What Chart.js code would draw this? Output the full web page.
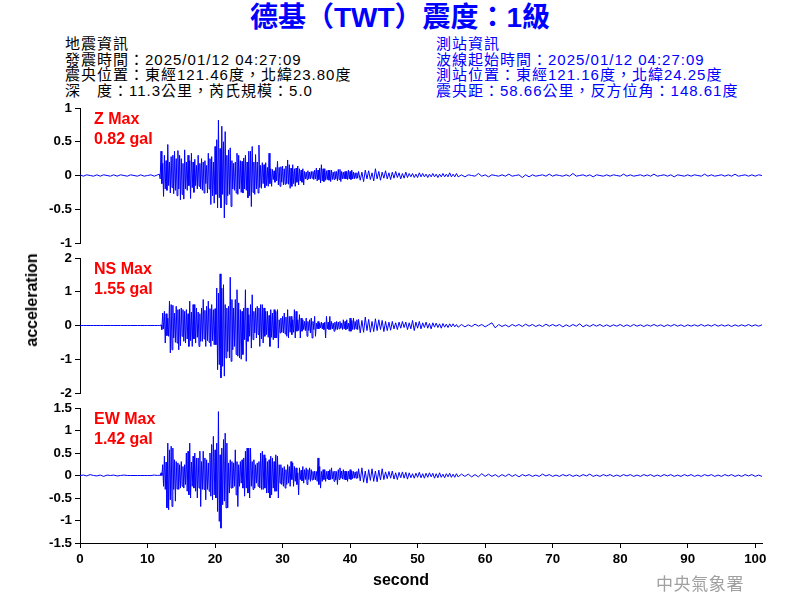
<!DOCTYPE html>
<html><head><meta charset="utf-8">
<script src="https://cdn.jsdelivr.net/npm/chart.js@4.4.1/dist/chart.umd.min.js"></script>
<style>
body{margin:0;background:#fff;}
#wrap{position:relative;width:800px;height:600px;overflow:hidden;background:#fff;font-family:"Liberation Sans",Arial,"Noto Sans CJK TC",sans-serif;}
canvas{position:absolute;left:0;}
.t{position:absolute;white-space:nowrap;}
#title{left:0;width:800px;text-align:center;top:0px;font-size:28px;font-weight:bold;color:#0000ff;line-height:36px;}
.hdr{font-size:15px;letter-spacing:1px;line-height:15.5px;}
#hl{left:65px;top:36px;color:#000;}
#hr{left:436px;top:36px;color:#0000ff;}
#acc{left:32px;top:300px;transform:translate(-50%,-50%) rotate(-90deg);font-size:16px;font-weight:bold;color:#000;}
#sec{left:401px;top:580px;transform:translate(-50%,-50%);font-size:16px;font-weight:bold;color:#000;}
#cwa{left:656px;top:570px;font-size:17px;letter-spacing:0.6px;color:#a0a0a0;font-family:"Noto Sans CJK TC",sans-serif;}
</style></head><body>
<div id="wrap">
<div id="title" class="t">德基（TWT）震度：1級</div>
<div id="hl" class="t hdr">地震資訊<br>發震時間：2025/01/12 04:27:09<br>震央位置：東經121.46度，北緯23.80度<br>深　度：11.3公里，芮氏規模：5.0</div>
<div id="hr" class="t hdr">測站資訊<br>波線起始時間：2025/01/12 04:27:09<br>測站位置：東經121.16度，北緯24.25度<br>震央距：58.66公里，反方位角：148.61度</div>
<canvas id="cz" width="800" height="160" style="top:95px"></canvas>
<canvas id="cn" width="800" height="160" style="top:245px"></canvas>
<canvas id="ce" width="800" height="205" style="top:395px"></canvas>
<div id="acc" class="t">acceleration</div>
<div id="sec" class="t">second</div>
<div id="cwa" class="t">中央氣象署</div>
</div>
<script>
// ---- time grids (seconds) ----
const PRE_T0 = 0, PRE_DT = 0.5;          // 0 .. 11.5 s
const MAIN_T0 = 11.75, MAIN_DT = 0.125;  // 11.75 .. 41.125 s
const TAIL1_T0 = 41.25, TAIL1_DT = 0.25; // 41.25 .. 56 s
const TAIL2_T0 = 56.5, TAIL2_DT = 0.5;   // 56.5 .. 101 s
const X_MAX = 101;
const X_TICKS_STEP = 10;

const traceNames = ['Z Max', 'NS Max', 'EW Max'];
const peakLabels = ['0.82 gal', '1.55 gal', '1.42 gal'];

// ---- Z component (gal) ----
const zPre = [0.01,-0.01,0.01,0,-0.01,0.01,-0.01,0.01,0,-0.01,0.01,-0.01,0.01,0,-0.01,0.01,0,-0.01,0.01,-0.01,0,0.01,-0.01,0.01];
const zMain = [
0.02,-0.05, 0.36,-0.12, 0.18,-0.31, 0.3,-0.2, 0.22,-0.22,
0.46,-0.15, 0.2,-0.26, 0.28,-0.18, 0.3,-0.27, 0.36,-0.22,
0.25,-0.3, 0.37,-0.2, 0.3,-0.36, 0.25,-0.28, 0.18,-0.35,
0.38,-0.2, 0.2,-0.22, 0.3,-0.15, 0.22,-0.34, 0.33,-0.18,
0.2,-0.25, 0.24,-0.15, 0.15,-0.2, 0.3,-0.16, 0.18,-0.2,
0.25,-0.22, 0.2,-0.26, 0.22,-0.12, 0.15,-0.26, 0.33,-0.2,
0.25,-0.43, 0.28,-0.3, 0.2,-0.41, 0.43,-0.28, 0.53,-0.48,
0.82,-0.33, 0.4,-0.48, 0.73,-0.28, 0.5,-0.63, 0.65,-0.43,
0.3,-0.3, 0.38,-0.28, 0.41,-0.46, 0.22,-0.2, 0.18,-0.22,
0.2,-0.26, 0.33,-0.28, 0.3,-0.2, 0.22,-0.25, 0.21,-0.26,
0.26,-0.2, 0.3,-0.22, 0.2,-0.33, 0.36,-0.3, 0.36,-0.46,
0.43,-0.25, 0.2,-0.28, 0.31,-0.2, 0.2,-0.26, 0.45,-0.18,
0.15,-0.19, 0.19,-0.12, 0.16,-0.18, 0.19,-0.15, 0.12,-0.16,
0.33,-0.12, 0.1,-0.16, 0.09,-0.06, 0.07,-0.1, 0.12,-0.08,
0.21,-0.14, 0.12,-0.16, 0.13,-0.1, 0.14,-0.14, 0.1,-0.13,
0.14,-0.12, 0.23,-0.13, 0.16,-0.19, 0.11,-0.16, 0.16,-0.12,
0.1,-0.16, 0.11,-0.1, 0.14,-0.14, 0.1,-0.08, 0.08,-0.1,
0.1,-0.14, 0.06,-0.05, 0.05,-0.06, 0.07,-0.05, 0.05,-0.05,
0.06,-0.04, 0.06,-0.06, 0.08,-0.05, 0.11,-0.08, 0.08,-0.06,
0.11,-0.11, 0.16,-0.08, 0.1,-0.09, 0.1,-0.07, 0.07,-0.06,
0.08,-0.07, 0.08,-0.09, 0.08,-0.06, 0.05,-0.06, 0.06,-0.05,
0.06,-0.08, 0.09,-0.06, 0.09,-0.09, 0.06,-0.05, 0.05,-0.05,
0.06,-0.05, 0.06,-0.06, 0.08,-0.05, 0.06,-0.06, 0.08,-0.05,
0.05,-0.05, 0.04,-0.04, 0.04,-0.04];
const zTail1 = [
0.06,-0.07,0.05,-0.09,0.08,-0.05,0.07,-0.06,0.04,-0.08,
0.1,-0.05,0.06,-0.07,0.05,-0.04,0.07,-0.05,0.04,-0.06,
0.05,-0.04,0.06,-0.03,0.04,-0.05,0.03,-0.04,0.05,-0.03,
0.03,-0.02,0.03,-0.03,0.02,-0.03,0.04,-0.02,0.03,-0.02,
0.02,-0.03,0.02,-0.02,0.03,-0.02,0.02,-0.03,0.02,-0.02,
0.03,-0.02,0.02,-0.02,0.04,-0.02,0.02,-0.02,0.03,-0.02];
const zTail2 = [
0.01,-0.02,0.01,0,-0.01,0.03,-0.01,0.01,-0.02,0.01,
0,-0.01,0.01,-0.01,0.02,-0.01,0,0.01,-0.03,0.01,
-0.02,0.01,-0.01,0,0.01,-0.01,0.02,-0.01,0.01,0,
-0.01,0.01,-0.01,0.03,-0.01,0,0.01,-0.01,0.01,-0.02,
0.01,0,-0.01,0.01,-0.01,0.01,0,-0.01,0.02,-0.01,
0.01,-0.01,0,0.01,-0.01,0.01,-0.01,0.02,-0.01,0,
0.01,-0.01,0.01,-0.02,0.01,0,-0.01,0.01,-0.01,0.01,
0,-0.01,0.02,-0.01,0.01,-0.01,0,0.01,-0.01,0.01,
-0.01,0.02,-0.01,0,0.01,-0.01,0.01,-0.01,0.01,0];

// ---- NS component (gal) ----
const nsPre = [0,0,0,0,0,0,0,0,0,0,0,0,0,0,0,0,0,0,0,0,0,0,0,0];
const nsMain = [
0,0, 0.02,-0.12, 0.37,-0.1, 0.42,-0.52, 0.35,-0.3,
0.22,-0.32, 0.72,-0.81, 0.62,-0.72, 0.6,-0.37, 0.37,-0.5,
0.57,-0.52, 0.47,-0.72, 0.48,-0.6, 0.52,-0.32, 0.47,-0.47,
0.42,-0.52, 0.47,-0.4, 0.35,-0.62, 0.72,-0.45, 0.4,-0.62,
0.62,-0.4, 0.62,-0.52, 0.52,-0.35, 0.4,-0.62, 0.35,-0.47,
0.52,-0.47, 0.77,-0.4, 0.45,-0.62, 0.57,-0.45, 0.72,-0.5,
0.5,-0.62, 0.62,-0.45, 0.47,-0.57, 0.5,-0.57, 1.11,-1.31,
0.96,-1.16, 1.53,-1.55, 1.11,-1.21, 1.21,-1.5, 0.62,-0.96,
0.52,-0.77, 0.57,-0.96, 1.43,-1.06, 0.77,-0.72, 0.52,-0.62,
0.77,-0.86, 1.06,-0.91, 0.67,-0.96, 0.47,-1.0, 0.42,-0.86,
0.52,-0.42, 1.06,-1.06, 0.52,-0.47, 0.32,-0.32, 0.62,-0.67,
0.91,-0.42, 0.42,-0.22, 0.52,-0.37, 0.57,-0.27, 0.52,-0.62,
0.62,-0.4, 0.62,-0.52, 0.52,-0.32, 0.42,-0.27, 0.42,-0.35,
0.3,-0.62, 0.47,-0.35, 0.37,-0.42, 0.47,-0.37, 0.42,-0.37,
0.47,-0.67, 0.17,-0.22, 0.22,-0.2, 0.27,-0.22, 0.37,-0.25,
0.25,-0.32, 0.47,-0.37, 0.27,-0.2, 0.27,-0.27, 0.17,-0.2,
0.47,-0.37, 0.42,-0.17, 0.17,-0.15, 0.32,-0.37, 0.22,-0.17,
0.17,-0.12, 0.12,-0.15, 0.22,-0.32, 0.12,-0.15, 0.17,-0.22,
0.22,-0.37, 0.12,-0.12, 0.27,-0.32, 0.07,-0.1, 0.12,-0.1,
0.07,-0.07, 0.1,-0.1, 0.07,-0.12, 0.1,-0.37, 0.27,-0.1,
0.1,-0.12, 0.27,-0.12, 0.12,-0.1, 0.07,-0.17, 0.1,-0.12,
0.12,-0.12, 0.1,-0.1, 0.12,-0.08, 0.07,-0.12, 0.17,-0.1,
0.12,-0.12, 0.17,-0.1, 0.07,-0.17, 0.22,-0.17, 0.15,-0.12,
0.22,-0.12, 0.12,-0.1, 0.17,-0.12];
const nsTail1 = [
0.18,-0.22,0.15,-0.2,0.25,-0.15,0.18,-0.2,0.12,-0.18,
0.2,-0.15,0.17,-0.12,0.15,-0.18,0.12,-0.15,0.1,-0.14,
0.12,-0.1,0.08,-0.12,0.1,-0.08,0.12,-0.06,0.1,-0.12,
0.08,-0.1,0.15,-0.15,0.1,-0.08,0.12,-0.1,0.08,-0.06,
0.1,-0.08,0.06,-0.1,0.08,-0.05,0.07,-0.06,0.05,-0.08,
0.06,-0.05,0.04,-0.06,0.05,-0.04,0.05,-0.04,0.03,-0.05];
const nsTail2 = [
0.03,-0.04,0.02,-0.03,0.04,-0.02,0.03,-0.04,0.02,0.08,
-0.07,0.03,-0.03,0.02,-0.04,0.03,-0.02,0.03,-0.03,0.04,
-0.02,0.03,-0.03,0.02,-0.03,0.04,-0.02,0.03,-0.02,0.03,
-0.04,0.02,-0.03,0.03,-0.02,0.05,-0.04,0.02,-0.03,0.03,
-0.02,0.03,-0.03,0.02,-0.03,0.02,-0.02,0.03,-0.03,0.02,
-0.03,0.03,-0.02,0.02,-0.03,0.02,-0.02,0.03,-0.02,0.02,
-0.03,0.02,-0.02,0.03,-0.02,0.02,-0.03,0.02,-0.02,0.02,
-0.02,0.03,-0.02,0.02,-0.02,0.03,-0.02,0.02,-0.02,0.02,
-0.03,0.02,-0.02,0.02,-0.02,0.03,-0.02,0.02,-0.02,0.02];

// ---- EW component (gal) ----
const ewPre = [0,0.01,-0.01,0.02,0,-0.01,0.01,-0.02,0.01,0,0.01,-0.01,0,0.01,0,0,0,0,0,0,0,0,0.01,0];
const ewMain = [
0.01,-0.01, 0.06,0, 0.24,-0.24, 0.43,-0.31, 0.3,-0.72,
0.72,-0.76, 0.57,-0.54, 0.65,-0.69, 0.61,-0.31, 0.35,-0.57,
0.31,-0.3, 0.28,-0.31, 0.24,-0.28, 0.31,-0.24, 0.2,-0.28,
0.24,-0.2, 0.5,-0.35, 0.54,-0.43, 0.72,-0.5, 0.3,-0.24,
0.43,-0.28, 0.5,-0.35, 0.39,-0.5, 0.39,-0.28, 0.54,-0.69,
0.31,-0.31, 0.54,-0.31, 0.39,-0.54, 0.35,-0.31, 0.28,-0.35,
0.5,-0.46, 0.69,-0.54, 0.87,-0.43, 0.57,-0.5, 0.72,-0.8,
1.42,-1.02, 0.46,-1.17, 0.61,-0.65, 0.8,-0.57, 0.94,-0.72,
0.72,-0.72, 0.28,-0.39, 0.35,-0.28, 0.31,-0.28, 0.28,-0.24,
0.57,-0.43, 0.31,-0.69, 0.24,-0.24, 0.31,-0.17, 0.35,-0.28,
0.39,-0.46, 0.54,-0.28, 0.61,-0.39, 0.61,-0.5, 0.61,-0.24,
0.31,-0.31, 0.35,-0.28, 0.24,-0.17, 0.28,-0.24, 0.31,-0.28,
0.5,-0.31, 0.54,-0.31, 0.46,-0.28, 0.39,-0.39, 0.31,-0.39,
0.35,-0.5, 0.43,-0.43, 0.39,-0.28, 0.31,-0.35, 0.46,-0.35,
0.43,-0.5, 0.24,-0.17, 0.24,-0.2, 0.17,-0.24, 0.2,-0.28,
0.13,-0.2, 0.24,-0.17, 0.2,-0.24, 0.31,-0.09, 0.28,-0.24,
0.2,-0.13, 0.17,-0.2, 0.06,-0.43, 0.17,-0.09, 0.12,-0.12,
0.2,-0.17, 0.13,-0.09, 0.17,-0.2, 0.13,-0.09, 0.17,-0.13,
0.13,-0.1, 0.09,-0.09, 0.1,-0.1, 0.09,-0.13, 0.39,-0.2,
0.2,-0.28, 0.09,-0.13, 0.13,-0.09, 0.13,-0.13, 0.09,-0.08,
0.1,-0.1, 0.13,-0.09, 0.17,-0.08, 0.09,-0.13, 0.1,-0.1,
0.09,-0.2, 0.13,-0.09, 0.17,-0.06, 0.1,-0.08, 0.13,-0.09,
0.1,-0.1, 0.09,-0.13, 0.1,-0.08, 0.13,-0.09, 0.1,-0.07,
0.09,-0.06, 0.08,-0.06, 0.09,-0.06];
const ewTail1 = [
0.15,-0.12,0.17,-0.15,0.1,-0.17,0.13,-0.11,0.15,-0.13,
0.1,-0.14,0.12,-0.1,0.15,-0.09,0.08,-0.07,0.09,-0.06,
0.1,-0.08,0.06,-0.09,0.07,-0.05,0.08,-0.06,0.07,-0.08,
0.06,-0.05,0.04,-0.06,0.05,-0.04,0.07,-0.05,0.04,-0.06,
0.05,-0.04,0.06,-0.03,0.05,-0.06,0.04,-0.05,0.06,-0.04,
0.03,-0.05,0.04,-0.03,0.05,-0.04,0.03,-0.04,0.04,-0.03];
const ewTail2 = [
0.03,-0.02,0.03,-0.03,0.02,-0.03,0.04,-0.02,0.03,-0.02,
0.02,-0.03,0.02,-0.02,0.03,-0.02,0.02,-0.03,0.02,-0.01,
0.02,-0.02,0.01,-0.02,0.03,-0.01,0.02,-0.02,0.01,-0.02,
0.02,-0.01,0.02,-0.02,0.01,-0.02,0.02,-0.01,0.03,-0.02,
0.01,-0.02,0.02,-0.01,0.02,-0.02,0.01,-0.02,0.02,-0.01,
0.02,-0.02,0.01,-0.02,0.02,-0.01,0.02,-0.02,0.01,-0.02,
0.02,-0.01,0.02,-0.02,0.01,-0.02,0.02,-0.01,0.02,-0.02,
0.01,-0.02,0.02,-0.01,0.02,-0.02,0.01,-0.02,0.02,-0.01,
0.02,-0.02,0.01,-0.02,0.02,-0.01,0.02,-0.02,0.01,-0.02];

function addSegment(pts, values, t0, dt) {
  values.forEach((v, i) => pts.push({x: t0 + i * dt, y: v}));
}
function buildSeries(pre, main, tail1, tail2) {
  const pts = [];
  addSegment(pts, pre, PRE_T0, PRE_DT);
  addSegment(pts, main, MAIN_T0, MAIN_DT);
  addSegment(pts, tail1, TAIL1_T0, TAIL1_DT);
  addSegment(pts, tail2, TAIL2_T0, TAIL2_DT);
  return pts;
}

Chart.defaults.font.family = '"Liberation Sans", Arial, sans-serif';
Chart.defaults.color = '#000';

const peakLabelPlugin = {
  id: 'peakLabel',
  afterDatasetsDraw(chart, args, opts) {
    const a = chart.chartArea, ctx = chart.ctx;
    ctx.save();
    ctx.fillStyle = '#ff0000';
    ctx.font = 'bold 16px "Liberation Sans", Arial, sans-serif';
    ctx.textBaseline = 'alphabetic';
    ctx.textAlign = 'left';
    ctx.fillText(opts.name, a.left + 14, a.top + 15.5);
    ctx.fillText(opts.peak, a.left + 14, a.top + 35.5);
    ctx.restore();
  }
};

const tickFont = {size: 13.33, weight: 'bold'};

function makeChart(id, pts, yMin, yMax, yStep, idx, showX) {
  const xScale = {type: 'linear', min: 0, max: X_MAX, display: showX,
    border: {color: '#000', width: 1},
    grid: {drawOnChartArea: false, drawTicks: true, tickLength: 5, color: '#000'},
    ticks: {stepSize: X_TICKS_STEP, includeBounds: false, font: tickFont, padding: 3,
      maxRotation: 0, autoSkip: false, color: '#000'}};
  if (showX) xScale.afterFit = s => { s.height = 50; };
  return new Chart(document.getElementById(id), {
    type: 'line',
    data: {datasets: [{data: pts, borderColor: '#0000ff', borderWidth: 1, pointRadius: 0,
      tension: 0, borderJoinStyle: 'bevel', fill: false}]},
    options: {
      responsive: false, animation: false, parsing: false, normalized: true,
      events: [],
      layout: {padding: {top: 13, right: 38, bottom: showX ? 7 : 12, left: 0}},
      plugins: {legend: {display: false}, tooltip: {enabled: false},
        peakLabel: {name: traceNames[idx], peak: peakLabels[idx]}},
      scales: {
        x: xScale,
        y: {type: 'linear', min: yMin, max: yMax,
          border: {color: '#000', width: 1},
          grid: {drawOnChartArea: false, drawTicks: true, tickLength: 5, color: '#000'},
          ticks: {stepSize: yStep, font: tickFont, padding: 3, color: '#000',
            callback: v => String(v)},
          afterFit: s => { s.width = 80; }}
      }
    },
    plugins: [peakLabelPlugin]
  });
}

makeChart('cz', buildSeries(zPre, zMain, zTail1, zTail2), -1, 1, 0.5, 0, false);
makeChart('cn', buildSeries(nsPre, nsMain, nsTail1, nsTail2), -2, 2, 1, 1, false);
makeChart('ce', buildSeries(ewPre, ewMain, ewTail1, ewTail2), -1.5, 1.5, 0.5, 2, true);
</script>
</body></html>
